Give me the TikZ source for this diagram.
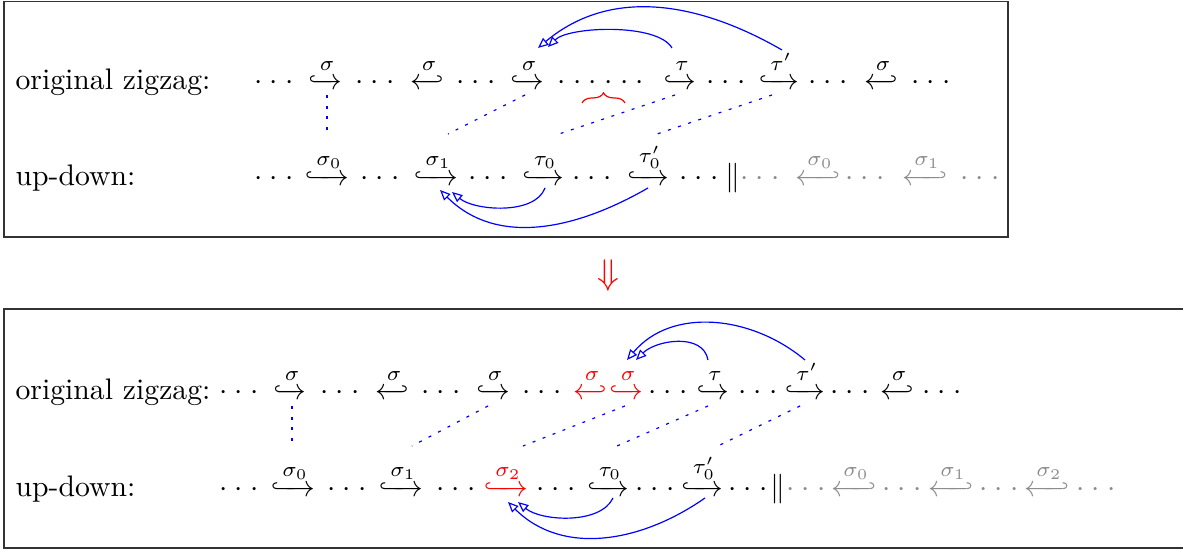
\documentclass[tikz,border=0pt]{standalone}
\usepackage{mathtools}
\usetikzlibrary{arrows.meta,calc,decorations.pathreplacing}
\tikzset{x=1pt, y=1pt}
\newcommand{\dts}{\mathinner{\cdotp\mkern1.5mu\cdotp\mkern1.5mu\cdotp}}
\newcommand{\hkr}[1]{\xhookrightarrow{#1}}
\newcommand{\hkl}[1]{\xhookleftarrow{#1}}
\tikzset{
  elt/.style={anchor=base, inner sep=0pt},
  link/.style={blue, dash pattern=on 1pt off 2.6pt},
  back/.style={blue, -{Triangle[open, length=3.5pt, width=3pt]}},
  faded/.style={black!45},
}

\begin{document}
\begin{tikzpicture}[x=0.3367pt, y=0.3367pt]
\useasboundingbox (0,0) rectangle (1183,552);
\draw[black!80] (4,550.5) rectangle (1008,315);
\draw[black!80] (4,243) rectangle (1200,4);

% first frame, original zigzag
\node[elt, anchor=base west] (oz1) at (15,462) {original zigzag:};
\foreach \x in {274,375,476,726,828,931}
  \node[elt] (ta\x) at (\x,462) {$\dts$};
\node[elt] (gap) at (601,462) {$\dts\mkern1.5mu\dts$};
\node[elt] (z1) at (325,462) {$\hkr{\sigma}$};
\node[elt] (z2) at (427,462) {$\hkl{\sigma}$};
\node[elt] (z3) at (527,462) {$\hkr{\sigma}$};
\node[elt] (z4) at (680,462) {$\hkr{\tau}$};
\node[elt] (z5) at (779,462) {$\hkr{\tau'}$};
\node[elt] (z6) at (881,462) {$\hkl{\sigma}$};
\draw[red, decorate, decoration={brace, amplitude=3.4pt}]
  ($(gap.base)+(-19,-13)$) -- ($(gap.base)+(24,-13)$);

% first frame, up-down
\node[elt, anchor=base west] (ud1) at (15,366) {up-down:};
\foreach \x in {274,380,488,592,699}
  \node[elt] (tb\x) at (\x,366) {$\dts$};
\node[elt] (u1) at (327,366) {$\hkr{\sigma_0}$};
\node[elt] (u2) at (436,366) {$\hkr{\sigma_1}$};
\node[elt] (u3) at (543,366) {$\hkr{\tau_0}$};
\node[elt] (u4) at (648,366) {$\hkr{\tau'_0}$};
\node[elt] (bar1) at (733,366) {$\|$};
\foreach \x in {760,865,980}
  \node[elt, faded] (tc\x) at (\x,366) {$\dts$};
\node[elt, faded] (g1) at (818,366) {$\hkl{\sigma_0}$};
\node[elt, faded] (g2) at (925,366) {$\hkl{\sigma_1}$};

\foreach \a/\b/\s/\e in {z1/u1/2/0, z3/u2/-2/12, z4/u3/-5/16, z5/u4/-7/9}
  \draw[link] ($(\a.base)+(\s,-5)$) -- ($(\b.base)+(\e,52)$);

\draw[back] ($(z4.base)+(-8,42)$) to[out=120, in=45, looseness=0.6] ($(z3.base)+(21,43)$);
\draw[back] ($(z5.base)+(3,40)$) to[out=150, in=40] ($(z3.base)+(11,42)$);
\draw[back] ($(u3.base)+(2,-2)$) to[out=-110, in=-40, looseness=0.8] ($(u2.base)+(16,-6)$);
\draw[back] ($(u4.base)+(0,-2)$) to[out=-150, in=-45] ($(u2.base)+(4,-4)$);

\node[red, scale=1.2] (imp) at (608,276) {$\Downarrow$};

% second frame, original zigzag
\node[elt, anchor=base west] (oz2) at (15,152) {original zigzag:};
\foreach \x in {239,340,441,542,668,758,850,942}
  \node[elt] (td\x) at (\x,152) {$\dts$};
\node[elt] (b1) at (290,152) {$\hkr{\sigma}$};
\node[elt] (b2) at (392,152) {$\hkl{\sigma}$};
\node[elt] (b3) at (493,152) {$\hkr{\sigma}$};
\node[elt, red] (r1) at (590,152) {$\hkl{\sigma}$};
\node[elt, red] (r2) at (626,152) {$\hkr{\sigma}$};
\node[elt] (b4) at (713,152) {$\hkr{\tau}$};
\node[elt] (b5) at (805,152) {$\hkr{\tau'}$};
\node[elt] (b6) at (897,152) {$\hkl{\sigma}$};

% second frame, up-down
\node[elt, anchor=base west] (ud2) at (15,55) {up-down:};
\foreach \x in {239,347,456,556,655,748}
  \node[elt] (te\x) at (\x,55) {$\dts$};
\node[elt] (c1) at (293,55) {$\hkr{\sigma_0}$};
\node[elt] (c2) at (401,55) {$\hkr{\sigma_1}$};
\node[elt, red] (c3) at (506,55) {$\hkr{\sigma_2}$};
\node[elt] (c4) at (608,55) {$\hkr{\tau_0}$};
\node[elt] (c5) at (702,55) {$\hkr{\tau'_0}$};
\node[elt] (bar2) at (778,55) {$\|$};
\foreach \x in {806,902,999,1096}
  \node[elt, faded] (tf\x) at (\x,55) {$\dts$};
\node[elt, faded] (h1) at (854,55) {$\hkl{\sigma_0}$};
\node[elt, faded] (h2) at (951,55) {$\hkl{\sigma_1}$};
\node[elt, faded] (h3) at (1047,55) {$\hkl{\sigma_2}$};

\foreach \a/\b/\s/\e in {b1/c1/2/-1, b3/c2/-5/11, r2/c3/-1/17, b4/c4/-5/9, b5/c5/-5/16}
  \draw[link] ($(\a.base)+(\s,-6)$) -- ($(\b.base)+(\e,51)$);

\draw[back] ($(b4.base)+(-5,40)$) to[out=100, in=45] ($(r2.base)+(10,40)$);
\draw[back] ($(b5.base)+(0,40)$) to[out=140, in=50] ($(r2.base)+(1,40)$);
\draw[back] ($(c4.base)+(5,-1)$) to[out=-115, in=-40, looseness=0.8] ($(c3.base)+(12,-5)$);
\draw[back] ($(c5.base)+(3,-1)$) to[out=-145, in=-45] ($(c3.base)+(2,-5)$);
\end{tikzpicture}
\end{document}
